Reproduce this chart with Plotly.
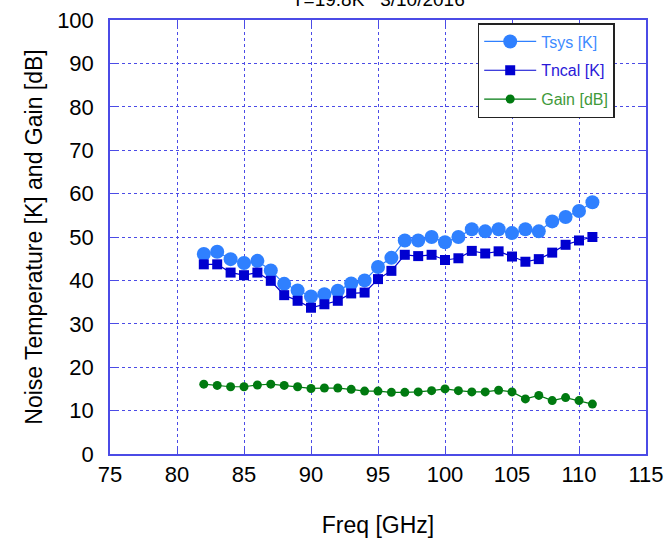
import plotly.graph_objects as go

freq = list(range(82, 112))
tsys = [46.1, 46.6, 44.9, 44.0, 44.5, 42.3, 39.2, 37.7, 36.3, 36.8,
        37.6, 39.3, 40.0, 43.1, 45.2, 49.2, 49.2, 50.0, 48.8, 50.0,
        51.8, 51.3, 51.8, 50.9, 51.8, 51.3, 53.6, 54.6, 56.0, 58.0]
tncal = [43.7, 43.7, 41.8, 41.2, 41.8, 39.9, 36.6, 35.3, 33.7, 34.5,
         35.3, 37.0, 37.2, 40.3, 42.2, 45.9, 45.6, 45.9, 44.7, 45.1,
         46.8, 46.2, 46.7, 45.5, 44.3, 44.9, 46.4, 48.2, 49.2, 50.0]
gain = [16.1, 15.8, 15.5, 15.5, 15.9, 16.1, 15.8, 15.5, 15.1, 15.2,
        15.2, 14.9, 14.5, 14.5, 14.2, 14.2, 14.3, 14.6, 15.0, 14.6,
        14.3, 14.3, 14.7, 14.3, 12.7, 13.5, 12.3, 13.0, 12.3, 11.5]
title_text = "T=19.8K   3/10/2016"

C_TSYS = "#2f80ff"
C_TNCAL = "#0000d0"
C_GAIN = "#007a10"
GRID = "#4b4be6"
FONT = "Liberation Sans, Arial, sans-serif"

fig = go.Figure()
fig.add_trace(go.Scatter(
    x=freq, y=tsys, mode="lines+markers", legendgroup="a",
    name=f"<span style='color:#3d8bff'>Tsys [K]</span>",
    line=dict(color=C_TSYS, width=1.2),
    marker=dict(symbol="circle", size=14, color=C_TSYS)))
fig.add_trace(go.Scatter(
    x=freq, y=tncal, mode="lines+markers", legendgroup="b",
    name=f"<span style='color:#2a18d8'>Tncal [K]</span>",
    line=dict(color=C_TNCAL, width=1.2),
    marker=dict(symbol="square", size=10, color=C_TNCAL)))
fig.add_trace(go.Scatter(
    x=freq, y=gain, mode="lines+markers", legendgroup="c",
    name=f"<span style='color:#3f9a3a'>Gain [dB]</span>",
    line=dict(color=C_GAIN, width=1.2),
    marker=dict(symbol="circle", size=9, color=C_GAIN)))

axis_common = dict(
    showgrid=True, gridcolor=GRID, griddash="dot", gridwidth=1,
    showline=True, linecolor=GRID, linewidth=1.5, mirror="ticks",
    ticks="inside", ticklen=6, tickcolor=GRID,
    zeroline=False, automargin=False, ticklabeloverflow="allow",
    tickfont=dict(family=FONT, size=22, color="black"),
)

fig.update_layout(
    width=669, height=538,
    margin=dict(l=110, r=23, t=20, b=84),
    paper_bgcolor="white", plot_bgcolor="white",
    font=dict(family=FONT, color="black"),
    xaxis=dict(range=[75, 115], dtick=5,
               title=dict(text="Freq [GHz]", standoff=31,
                          font=dict(family=FONT, size=23)),
               **axis_common),
    yaxis=dict(range=[0, 100], dtick=10, ticklabelstandoff=10,
               title=dict(text="Noise Temperature [K] and Gain [dB]", standoff=8,
                          font=dict(family=FONT, size=23)),
               **axis_common),
    legend=dict(x=0.686, y=0.993, xanchor="left", yanchor="top",
                bgcolor="white", bordercolor="#222222", borderwidth=1.5,
                font=dict(family=FONT, size=16),
                itemwidth=52, tracegroupgap=5),
    showlegend=True,
    annotations=[dict(text=title_text, x=0.5, xref="paper", y=1, yref="paper",
                      xanchor="center", yanchor="bottom", yshift=8,
                      showarrow=False,
                      font=dict(family=FONT, size=19, color="black"))],
)

fig.write_html("out.html",
               config={"displayModeBar": False},
               post_script="document.body.style.margin='0';")
